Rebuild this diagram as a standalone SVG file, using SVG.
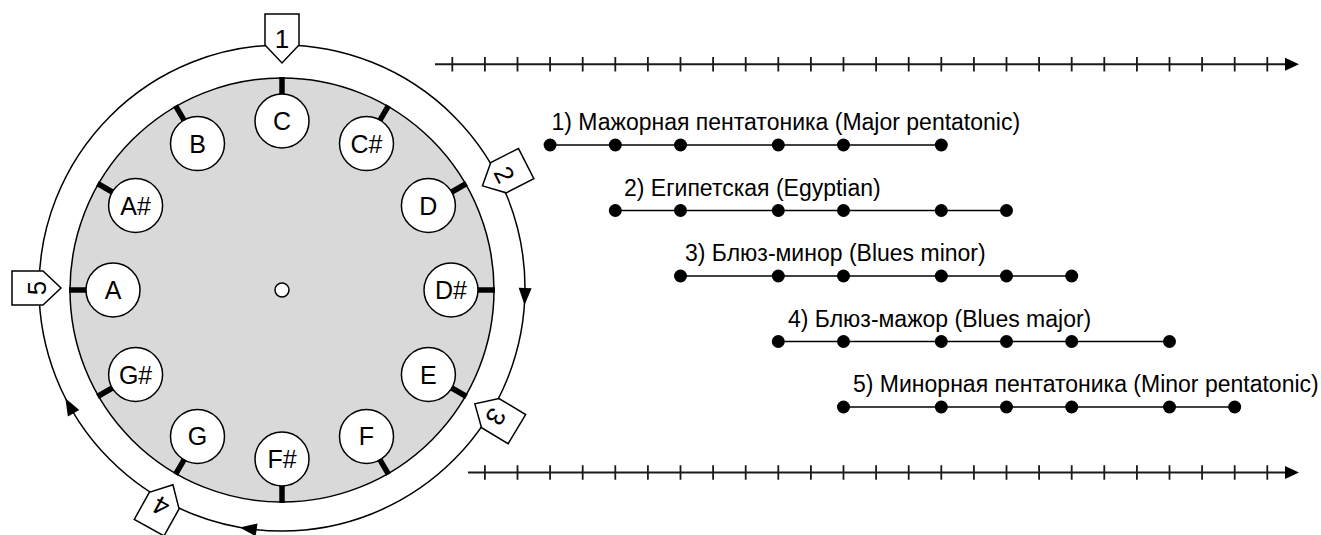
<svg xmlns="http://www.w3.org/2000/svg" width="1321" height="535" viewBox="0 0 1321 535">
<style>
  .lbl{font-family:"Liberation Sans",Arial,sans-serif;font-size:23px;fill:#000}
  .note{font-family:"Liberation Sans",Arial,sans-serif;font-size:25px;fill:#000;text-anchor:middle}
  .num{font-family:"Liberation Sans",Arial,sans-serif;font-size:26px;fill:#000;text-anchor:middle}
  .nc{fill:#fff;stroke:#000;stroke-width:1.5}
  .mk{fill:#fff;stroke:#000;stroke-width:1.5;stroke-linejoin:miter}
  .axis{stroke:#1a1a1a;stroke-width:2;fill:none}
  .tick{stroke:#1a1a1a;stroke-width:1.8;fill:none}
  .sl{stroke:#000;stroke-width:1.5;fill:none}
  .dot{fill:#000}
</style>
<defs>
  <line id="ntick" x1="282" y1="77" x2="282" y2="96" stroke="#000" stroke-width="5.5"/>
  <polygon id="arr" points="290.5,45 273.5,38.5 273.5,51.5" fill="#000"/>
</defs>

<g id="wheel">
  <circle cx="282" cy="288" r="243" fill="none" stroke="#000" stroke-width="1.5"/>
  <circle cx="282" cy="290" r="212" fill="#d9d9d9" stroke="#000" stroke-width="1.5"/>
  <circle cx="282" cy="290" r="7" class="nc"/>
  <g id="ticks">
    <use href="#ntick" transform="rotate(0 282 290)"/>
    <use href="#ntick" transform="rotate(30 282 290)"/>
    <use href="#ntick" transform="rotate(60 282 290)"/>
    <use href="#ntick" transform="rotate(90 282 290)"/>
    <use href="#ntick" transform="rotate(120 282 290)"/>
    <use href="#ntick" transform="rotate(150 282 290)"/>
    <use href="#ntick" transform="rotate(180 282 290)"/>
    <use href="#ntick" transform="rotate(210 282 290)"/>
    <use href="#ntick" transform="rotate(240 282 290)"/>
    <use href="#ntick" transform="rotate(270 282 290)"/>
    <use href="#ntick" transform="rotate(300 282 290)"/>
    <use href="#ntick" transform="rotate(330 282 290)"/>
  </g>
</g>

<g id="note-C"><circle cx="282" cy="121" r="27" class="nc"/><text x="282" y="130" class="note">C</text></g>
<g id="note-Cs"><circle cx="366.5" cy="143.6" r="27" class="nc"/><text x="366.5" y="152.6" class="note">C#</text></g>
<g id="note-D"><circle cx="428.4" cy="205.5" r="27" class="nc"/><text x="428.4" y="214.5" class="note">D</text></g>
<g id="note-Ds"><circle cx="451" cy="290" r="27" class="nc"/><text x="451" y="299" class="note">D#</text></g>
<g id="note-E"><circle cx="428.4" cy="374.5" r="27" class="nc"/><text x="428.4" y="383.5" class="note">E</text></g>
<g id="note-F"><circle cx="366.5" cy="436.4" r="27" class="nc"/><text x="366.5" y="445.4" class="note">F</text></g>
<g id="note-Fs"><circle cx="282" cy="459" r="27" class="nc"/><text x="282" y="468" class="note">F#</text></g>
<g id="note-G"><circle cx="197.5" cy="436.4" r="27" class="nc"/><text x="197.5" y="445.4" class="note">G</text></g>
<g id="note-Gs"><circle cx="135.6" cy="374.5" r="27" class="nc"/><text x="135.6" y="383.5" class="note">G#</text></g>
<g id="note-A"><circle cx="113" cy="290" r="27" class="nc"/><text x="113" y="299" class="note">A</text></g>
<g id="note-As"><circle cx="135.6" cy="205.5" r="27" class="nc"/><text x="135.6" y="214.5" class="note">A#</text></g>
<g id="note-B"><circle cx="197.5" cy="143.6" r="27" class="nc"/><text x="197.5" y="152.6" class="note">B</text></g>

<g id="connectors">
  <use href="#arr" transform="rotate(92 282 288)"/>
  <use href="#arr" transform="rotate(188 282 288)"/>
  <use href="#arr" transform="rotate(241 282 288)"/>
</g>

<g id="marker-1"><polygon class="mk" points="265,14 299,14 299,45 282,63 265,45"/><text x="282" y="47.5" class="num">1</text></g>
<g id="marker-2" transform="rotate(63 282 288)"><polygon class="mk" points="265,14 299,14 299,45 282,63 265,45"/><text x="282" y="47.5" class="num">2</text></g>
<g id="marker-3" transform="rotate(121 282 288)"><polygon class="mk" points="265,14 299,14 299,45 282,63 265,45"/><text x="282" y="47.5" class="num">3</text></g>
<g id="marker-4" transform="rotate(209 282 288)"><polygon class="mk" points="265,14 299,14 299,45 282,63 265,45"/><text x="282" y="47.5" class="num">4</text></g>
<g id="marker-5" transform="rotate(270 282 288) translate(0 4)"><polygon class="mk" points="265,14 299,14 299,45 282,63 265,45"/><text x="282" y="47.5" class="num">5</text></g>

<g id="axis-top">
  <line x1="435" y1="64.3" x2="1288" y2="64.3" class="axis"/>
  <polygon points="1299,64.3 1285,57.8 1285,70.8" fill="#000"/>
  <path class="tick" d="M452.3,57v14.6M484.9,57v14.6M517.5,57v14.6M550.1,57v14.6M582.7,57v14.6M615.3,57v14.6M647.9,57v14.6M680.5,57v14.6M713.1,57v14.6M745.7,57v14.6M778.3,57v14.6M810.9,57v14.6M843.5,57v14.6M876.1,57v14.6M908.7,57v14.6M941.3,57v14.6M973.9,57v14.6M1006.5,57v14.6M1039.1,57v14.6M1071.7,57v14.6M1104.3,57v14.6M1136.9,57v14.6M1169.5,57v14.6M1202.1,57v14.6M1234.7,57v14.6M1267.3,57v14.6"/>
</g>

<g id="axis-bottom">
  <line x1="468" y1="472.5" x2="1288" y2="472.5" class="axis"/>
  <polygon points="1299,472.5 1285,466 1285,479" fill="#000"/>
  <path class="tick" d="M484.9,465.2v14.6M517.5,465.2v14.6M550.1,465.2v14.6M582.7,465.2v14.6M615.3,465.2v14.6M647.9,465.2v14.6M680.5,465.2v14.6M713.1,465.2v14.6M745.7,465.2v14.6M778.3,465.2v14.6M810.9,465.2v14.6M843.5,465.2v14.6M876.1,465.2v14.6M908.7,465.2v14.6M941.3,465.2v14.6M973.9,465.2v14.6M1006.5,465.2v14.6M1039.1,465.2v14.6M1071.7,465.2v14.6M1104.3,465.2v14.6M1136.9,465.2v14.6M1169.5,465.2v14.6M1202.1,465.2v14.6M1234.7,465.2v14.6M1267.3,465.2v14.6"/>
</g>

<g id="scale-1">
  <text x="551.5" y="130" class="lbl">1) Мажорная пентатоника (Major pentatonic)</text>
  <line x1="550.1" y1="145" x2="941.3" y2="145" class="sl"/>
  <circle cx="550.1" cy="145" r="6.5" class="dot"/><circle cx="615.3" cy="145" r="6.5" class="dot"/><circle cx="680.5" cy="145" r="6.5" class="dot"/><circle cx="778.3" cy="145" r="6.5" class="dot"/><circle cx="843.5" cy="145" r="6.5" class="dot"/><circle cx="941.3" cy="145" r="6.5" class="dot"/>
</g>
<g id="scale-2">
  <text x="624" y="195.5" class="lbl">2) Египетская (Egyptian)</text>
  <line x1="615.3" y1="210.5" x2="1006.5" y2="210.5" class="sl"/>
  <circle cx="615.3" cy="210.5" r="6.5" class="dot"/><circle cx="680.5" cy="210.5" r="6.5" class="dot"/><circle cx="778.3" cy="210.5" r="6.5" class="dot"/><circle cx="843.5" cy="210.5" r="6.5" class="dot"/><circle cx="941.3" cy="210.5" r="6.5" class="dot"/><circle cx="1006.5" cy="210.5" r="6.5" class="dot"/>
</g>
<g id="scale-3">
  <text x="685" y="261" class="lbl">3) Блюз-минор (Blues minor)</text>
  <line x1="680.5" y1="276" x2="1071.7" y2="276" class="sl"/>
  <circle cx="680.5" cy="276" r="6.5" class="dot"/><circle cx="778.3" cy="276" r="6.5" class="dot"/><circle cx="843.5" cy="276" r="6.5" class="dot"/><circle cx="941.3" cy="276" r="6.5" class="dot"/><circle cx="1006.5" cy="276" r="6.5" class="dot"/><circle cx="1071.7" cy="276" r="6.5" class="dot"/>
</g>
<g id="scale-4">
  <text x="788" y="326.5" class="lbl">4) Блюз-мажор (Blues major)</text>
  <line x1="778.3" y1="341.5" x2="1169.5" y2="341.5" class="sl"/>
  <circle cx="778.3" cy="341.5" r="6.5" class="dot"/><circle cx="843.5" cy="341.5" r="6.5" class="dot"/><circle cx="941.3" cy="341.5" r="6.5" class="dot"/><circle cx="1006.5" cy="341.5" r="6.5" class="dot"/><circle cx="1071.7" cy="341.5" r="6.5" class="dot"/><circle cx="1169.5" cy="341.5" r="6.5" class="dot"/>
</g>
<g id="scale-5">
  <text x="853" y="392" class="lbl">5) Минорная пентатоника (Minor pentatonic)</text>
  <line x1="843.5" y1="407" x2="1234.7" y2="407" class="sl"/>
  <circle cx="843.5" cy="407" r="6.5" class="dot"/><circle cx="941.3" cy="407" r="6.5" class="dot"/><circle cx="1006.5" cy="407" r="6.5" class="dot"/><circle cx="1071.7" cy="407" r="6.5" class="dot"/><circle cx="1169.5" cy="407" r="6.5" class="dot"/><circle cx="1234.7" cy="407" r="6.5" class="dot"/>
</g>
</svg>
